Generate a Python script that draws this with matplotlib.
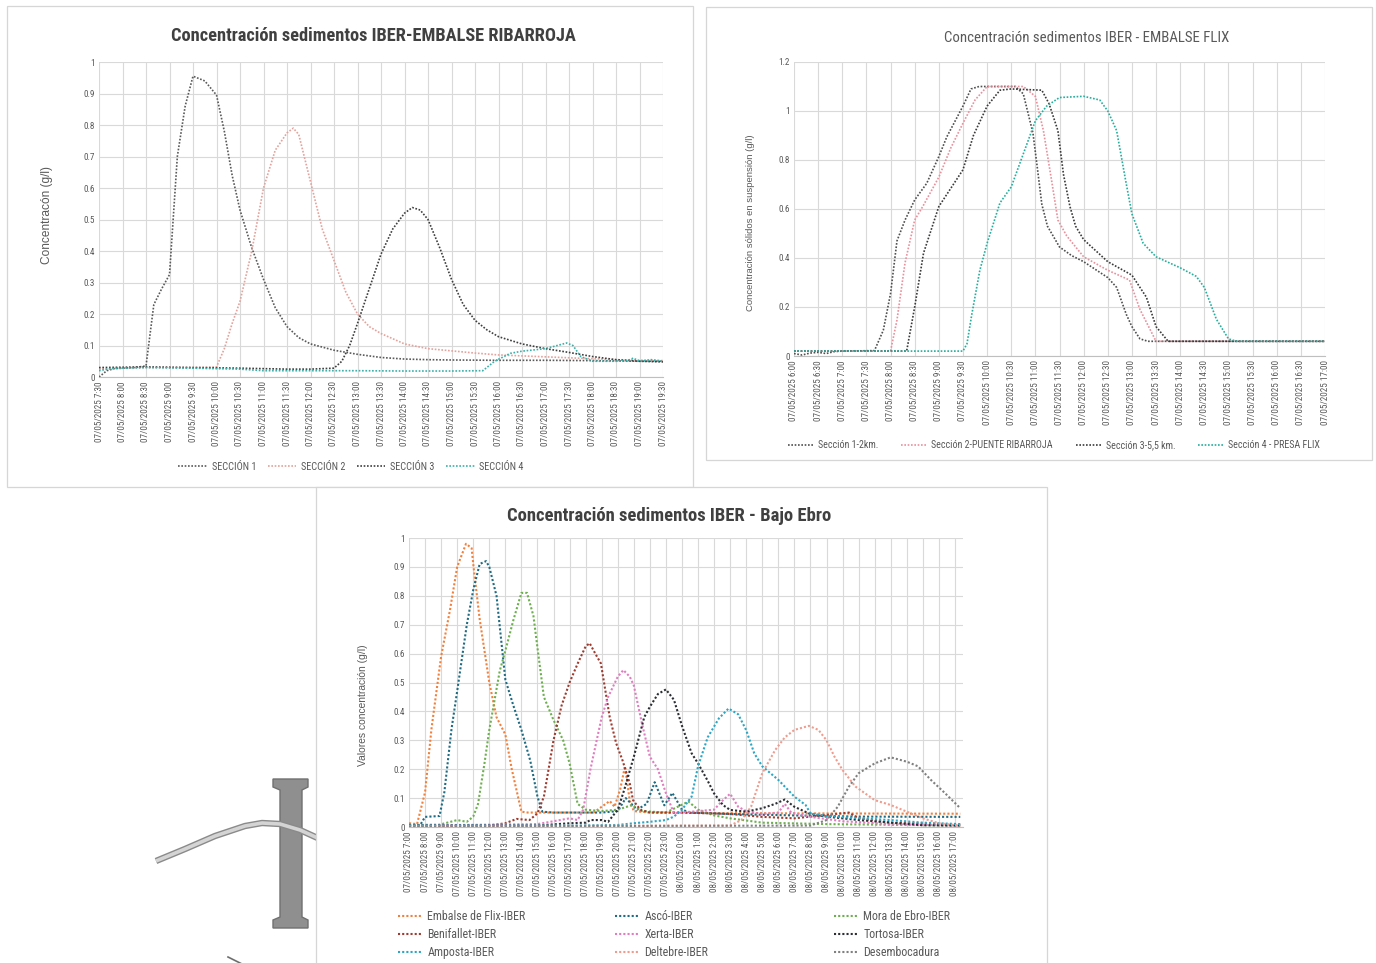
import matplotlib
matplotlib.use('Agg')
import matplotlib.pyplot as plt
from matplotlib.patches import Rectangle, Polygon
import numpy as np

W, H = 1376, 963
fig = plt.figure(figsize=(W / 100, H / 100), dpi=100)
fig.patch.set_facecolor('white')

NARROW = ['Liberation Sans Narrow', 'Roboto Condensed', 'DejaVu Sans']
REG = ['Liberation Sans', 'DejaVu Sans']
TXT = '#595959'
GRID = '#D9D9D9'

# ---------------- Chart 1 : Embalse Ribarroja ----------------
c1_title = 'Concentración sedimentos IBER-EMBALSE RIBARROJA'
c1_ylabel = 'Concentracón (g/l)'
c1_names = ['SECCIÓN 1', 'SECCIÓN 2', 'SECCIÓN 3', 'SECCIÓN 4']
c1_colors = ['#5A5A5A', '#E3A29B', '#3E3E3E', '#3AB0AA']
c1_s1_t = ['7:30', '7:40', '7:50', '8:00', '8:15', '8:30', '8:40', '8:50', '9:00', '9:10', '9:20', '9:30',
           '9:45', '10:00', '10:10', '10:20', '10:30', '10:45', '11:00', '11:15', '11:30', '11:45', '12:00',
           '12:30', '13:00', '13:30', '14:00', '14:30', '15:00', '16:00', '17:00', '18:00', '19:00', '19:30']
c1_s1_v = [0.0, 0.02, 0.027, 0.028, 0.03, 0.035, 0.23, 0.28, 0.325, 0.70, 0.86, 0.955,
           0.94, 0.895, 0.78, 0.64, 0.53, 0.41, 0.31, 0.22, 0.16, 0.125, 0.105,
           0.085, 0.072, 0.062, 0.057, 0.055, 0.054, 0.053, 0.053, 0.052, 0.05, 0.05]
c1_s2_t = ['7:30', '8:00', '8:30', '9:00', '9:30', '10:00', '10:10', '10:20', '10:30', '10:45', '11:00', '11:15',
           '11:30', '11:38', '11:45', '12:00', '12:15', '12:30', '12:45', '13:00', '13:15', '13:30', '14:00',
           '14:30', '15:00', '15:30', '16:00', '17:00', '18:00', '18:30', '19:30']
c1_s2_v = [0.025, 0.028, 0.03, 0.03, 0.03, 0.032, 0.09, 0.17, 0.24, 0.40, 0.60, 0.72,
           0.775, 0.79, 0.77, 0.62, 0.47, 0.37, 0.27, 0.20, 0.16, 0.138, 0.105,
           0.09, 0.083, 0.076, 0.07, 0.064, 0.058, 0.055, 0.052]
c1_s3_t = ['7:30', '8:30', '9:30', '10:30', '11:30', '12:00', '12:30', '12:40', '12:50', '13:00', '13:15', '13:30',
           '13:45', '14:00', '14:10', '14:20', '14:30', '14:45', '15:00', '15:15', '15:30', '15:45', '16:00',
           '16:30', '17:00', '17:30', '18:00', '18:30', '19:00', '19:30']
c1_s3_v = [0.03, 0.032, 0.03, 0.028, 0.025, 0.025, 0.028, 0.05, 0.10, 0.17, 0.28, 0.39,
           0.47, 0.52, 0.538, 0.53, 0.50, 0.41, 0.31, 0.23, 0.18, 0.15, 0.128,
           0.105, 0.09, 0.078, 0.065, 0.055, 0.05, 0.048]
c1_s4_t = ['7:30', '7:45', '8:30', '9:30', '10:30', '11:00', '12:00', '13:00', '14:00', '15:00', '15:40', '15:55',
           '16:15', '16:30', '17:00', '17:15', '17:27', '17:35', '17:45', '18:00', '18:30', '18:45', '18:52',
           '19:00', '19:15', '19:30']
c1_s4_v = [0.02, 0.027, 0.03, 0.028, 0.025, 0.02, 0.02, 0.02, 0.019, 0.019, 0.02, 0.05,
           0.075, 0.082, 0.09, 0.1, 0.108, 0.1, 0.065, 0.05, 0.05, 0.052, 0.06,
           0.05, 0.055, 0.05]
c1_yticks = [0, 0.1, 0.2, 0.3, 0.4, 0.5, 0.6, 0.7, 0.8, 0.9, 1]

# ---------------- Chart 2 : Embalse Flix ----------------
c2_title = 'Concentración sedimentos IBER - EMBALSE FLIX'
c2_ylabel = 'Concentración sólidos en suspensión (g/l)'
c2_names = ['Sección 1-2km.', 'Sección 2-PUENTE RIBARROJA', 'Sección 3-5,5 km.', 'Sección 4 - PRESA FLIX']
c2_colors = ['#4F4F4F', '#E8909C', '#3A3A3A', '#25AE9E']
c2_s1_t = ['6:00', '6:10', '6:20', '6:30', '6:40', '6:50', '7:00', '7:40', '7:51', '8:00', '8:08', '8:18',
           '8:30', '8:45', '9:00', '9:10', '9:30', '9:40', '9:50', '10:35', '10:45', '10:57', '11:02', '11:08',
           '11:15', '11:30', '11:45', '12:00', '12:30', '12:41', '12:53', '13:00', '13:10', '13:20', '17:00']
c2_s1_v = [0.01, 0.004, 0.012, 0.015, 0.01, 0.018, 0.02, 0.022, 0.105, 0.255, 0.47, 0.555,
           0.637, 0.705, 0.814, 0.895, 1.02, 1.09, 1.10, 1.10, 1.07, 0.91, 0.78, 0.62,
           0.53, 0.445, 0.41, 0.385, 0.32, 0.28, 0.17, 0.12, 0.07, 0.06, 0.06]
c2_s2_t = ['6:00', '6:30', '7:00', '8:00', '8:08', '8:18', '8:30', '8:40', '9:00', '9:15', '9:30', '9:45',
           '10:00', '10:45', '11:00', '11:10', '11:20', '11:28', '11:39', '12:00', '12:30', '12:57', '13:10',
           '13:30', '17:00']
c2_s2_v = [0.02, 0.02, 0.02, 0.02, 0.147, 0.38, 0.555, 0.61, 0.73, 0.85, 0.95, 1.045,
           1.10, 1.10, 1.06, 0.92, 0.72, 0.555, 0.49, 0.405, 0.35, 0.31, 0.19,
           0.06, 0.06]
c2_s3_t = ['6:00', '8:20', '8:30', '8:41', '9:00', '9:14', '9:30', '9:43', '10:00', '10:16', '10:30', '11:08',
           '11:17', '11:28', '11:35', '11:43', '11:50', '12:00', '12:30', '13:00', '13:18', '13:30', '13:45',
           '17:00']
c2_s3_v = [0.02, 0.02, 0.2, 0.42, 0.61, 0.68, 0.76, 0.9, 1.02, 1.085, 1.09, 1.085,
           1.03, 0.92, 0.74, 0.61, 0.53, 0.475, 0.385, 0.33, 0.24, 0.12, 0.06,
           0.06]
c2_s4_t = ['6:00', '9:30', '9:35', '9:41', '9:51', '10:00', '10:16', '10:30', '10:40', '11:00', '11:14', '11:30',
           '12:00', '12:20', '12:30', '12:41', '12:52', '13:00', '13:14', '13:30', '14:00', '14:20', '14:30',
           '14:45', '15:00', '15:10', '17:00']
c2_s4_v = [0.02, 0.02, 0.05, 0.17, 0.35, 0.46, 0.625, 0.69, 0.78, 0.96, 1.02, 1.055,
           1.06, 1.045, 1.0, 0.92, 0.72, 0.58, 0.46, 0.405, 0.36, 0.325, 0.28,
           0.15, 0.07, 0.06, 0.06]
c2_yticks = [0, 0.2, 0.4, 0.6, 0.8, 1, 1.2]

# ---------------- Chart 3 : Bajo Ebro (hours since 07/05 0:00) ----------------
c3_title = 'Concentración sedimentos IBER - Bajo Ebro'
c3_ylabel = 'Valores concentración (g/l)'
c3_names = ['Embalse de Flix-IBER', 'Ascó-IBER', 'Mora de Ebro-IBER',
            'Benifallet-IBER', 'Xerta-IBER', 'Tortosa-IBER',
            'Amposta-IBER', 'Deltebre-IBER', 'Desembocadura']
c3_colors = ['#F0803C', '#1F6B82', '#6DAF4F',
             '#9E3A2E', '#E27CC0', '#2A2D33',
             '#2BA6C4', '#EF9C8E', '#808080']
c3_flix_t = [7.0, 7.5, 8.0, 8.4, 9.0, 9.55, 10.0, 10.55, 10.9, 11.0, 11.4, 12.0, 12.45, 13.0, 13.4, 14.0,
             14.4, 18.5, 19.5, 19.8, 20.15, 20.45, 20.75, 21.0, 22.0, 27.0, 32.0, 41.33]
c3_flix_v = [0.013, 0.01, 0.12, 0.34, 0.59, 0.75, 0.90, 0.98, 0.965, 0.91, 0.72, 0.50, 0.38, 0.32, 0.20, 0.053,
             0.05, 0.05, 0.09, 0.07, 0.13, 0.21, 0.09, 0.055, 0.05, 0.048, 0.047, 0.046]
c3_asco_t = [7.0, 7.7, 8.0, 8.9, 9.2, 9.65, 10.0, 10.6, 11.0, 11.4, 11.8, 12.0, 12.45, 13.0, 13.5, 14.0,
             14.55, 15.0, 15.3, 16.0, 19.0, 20.0, 20.5, 21.2, 21.8, 22.3, 22.9, 23.4, 24.0, 24.5, 27.0,
             31.0, 35.0, 41.33]
c3_asco_v = [0.007, 0.007, 0.035, 0.038, 0.12, 0.34, 0.47, 0.70, 0.82, 0.91, 0.92, 0.90, 0.80, 0.51, 0.42, 0.336,
             0.23, 0.105, 0.053, 0.05, 0.05, 0.055, 0.10, 0.06, 0.08, 0.155, 0.075, 0.118, 0.06, 0.05, 0.045,
             0.04, 0.036, 0.035]
c3_mora_t = [7.0, 8.9, 10.0, 10.6, 11.0, 11.3, 11.7, 12.0, 12.65, 13.0, 13.5, 14.0, 14.35, 14.75, 15.0, 15.4,
             16.0, 16.6, 17.0, 17.5, 18.0, 19.0, 20.0, 20.9, 21.5, 23.0, 24.4, 25.0, 26.0, 27.0, 29.0, 33.0, 41.33]
c3_mora_v = [0.007, 0.008, 0.024, 0.018, 0.036, 0.08, 0.22, 0.336, 0.54, 0.61, 0.716, 0.81, 0.81, 0.73, 0.62, 0.45,
             0.37, 0.30, 0.22, 0.08, 0.06, 0.055, 0.06, 0.076, 0.055, 0.05, 0.088, 0.06, 0.04, 0.03, 0.015, 0.01, 0.005]
c3_beni_t = [7.0, 12.0, 13.0, 13.7, 14.5, 15.0, 15.4, 16.0, 16.5, 17.0, 17.5, 18.0, 18.25, 18.6, 18.95, 19.5,
             19.9, 20.3, 20.75, 20.95, 21.4, 22.0, 24.0, 27.0, 29.0, 31.0, 34.4, 35.0, 37.0, 41.33]
c3_beni_v = [0.003, 0.005, 0.013, 0.028, 0.024, 0.047, 0.105, 0.30, 0.42, 0.50, 0.565, 0.625, 0.636, 0.60, 0.566, 0.38,
             0.29, 0.23, 0.15, 0.093, 0.06, 0.05, 0.05, 0.045, 0.035, 0.03, 0.05, 0.03, 0.015, 0.008]
c3_xerta_t = [7.0, 15.0, 16.0, 17.0, 17.5, 17.85, 18.3, 19.0, 19.4, 20.0, 20.35, 20.75, 21.0, 21.5, 22.0, 22.5,
              23.0, 23.5, 24.0, 26.0, 26.5, 27.0, 27.5, 28.0, 29.0, 30.0, 30.4, 30.8, 32.0, 34.0, 37.0, 41.33]
c3_xerta_v = [0.005, 0.01, 0.02, 0.03, 0.024, 0.06, 0.20, 0.38, 0.45, 0.52, 0.543, 0.52, 0.49, 0.36, 0.243, 0.20,
              0.117, 0.047, 0.05, 0.06, 0.09, 0.115, 0.07, 0.055, 0.045, 0.05, 0.08, 0.05, 0.035, 0.02, 0.01, 0.005]
c3_tort_t = [7.0, 15.0, 17.0, 18.0, 18.3, 19.0, 19.4, 20.0, 20.4, 21.0, 21.65, 22.0, 22.5, 23.0, 23.5, 24.0,
             24.6, 25.0, 25.6, 26.0, 26.55, 27.0, 28.0, 29.0, 29.8, 30.4, 31.0, 31.9, 33.0, 35.0, 37.0, 39.0, 41.33]
c3_tort_v = [0.005, 0.005, 0.013, 0.015, 0.024, 0.024, 0.018, 0.06, 0.128, 0.243, 0.38, 0.416, 0.46, 0.476, 0.44, 0.35,
             0.255, 0.22, 0.16, 0.116, 0.076, 0.059, 0.053, 0.065, 0.08, 0.095, 0.07, 0.047, 0.036, 0.024, 0.015,
             0.006, 0.005]
c3_amp_t = [7.0, 17.0, 20.0, 21.0, 22.0, 23.0, 23.5, 24.0, 24.6, 25.0, 25.6, 26.3, 26.9, 27.5, 28.0, 28.5,
            29.0, 30.0, 31.0, 31.7, 32.0, 33.0, 35.0, 37.0, 39.0, 41.33]
c3_amp_v = [0.005, 0.005, 0.007, 0.013, 0.018, 0.024, 0.036, 0.06, 0.105, 0.21, 0.31, 0.376, 0.41, 0.39, 0.335, 0.255,
            0.21, 0.163, 0.105, 0.076, 0.047, 0.038, 0.03, 0.024, 0.015, 0.01]
c3_delt_t = [7.0, 27.0, 27.7, 28.3, 29.0, 29.8, 30.4, 31.0, 31.9, 32.5, 33.0, 33.5, 34.0, 34.8, 36.0, 37.0,
             38.0, 39.0, 40.0, 41.33]
c3_delt_v = [0.003, 0.005, 0.024, 0.07, 0.186, 0.266, 0.31, 0.336, 0.35, 0.336, 0.30, 0.243, 0.197, 0.14, 0.093,
             0.076, 0.053, 0.03, 0.013, 0.005]
c3_desem_t = [7.0, 32.0, 32.8, 33.0, 33.7, 34.4, 35.0, 36.0, 37.0, 38.0, 38.7, 39.5, 40.4, 41.33]
c3_desem_v = [0.002, 0.005, 0.02, 0.024, 0.07, 0.14, 0.186, 0.22, 0.241, 0.226, 0.21, 0.163, 0.116, 0.065]
c3_yticks = [0, 0.1, 0.2, 0.3, 0.4, 0.5, 0.6, 0.7, 0.8, 0.9, 1]


def hm(s):
    h, m = s.split(':')
    return int(h) + int(m) / 60.0


def px_axes(l, t, r, b, z=2):
    ax = fig.add_axes([l / W, 1 - b / H, (r - l) / W, (b - t) / H])
    ax.set_zorder(z)
    return ax


def style(ax, xlim, ylim, xticks, xlabels, yticks, xfs, yfs):
    ax.set_facecolor('none')
    ax.set_xlim(*xlim)
    ax.set_ylim(*ylim)
    ax.set_xticks(xticks)
    ax.set_xticklabels(xlabels, rotation=90, fontsize=xfs, family=NARROW, color=TXT)
    ax.set_yticks(yticks)
    ax.set_yticklabels(['%g' % v for v in yticks], fontsize=yfs, family=NARROW, color=TXT)
    ax.grid(True, color=GRID, lw=0.8)
    ax.set_axisbelow(True)
    for s in ['top', 'right', 'left']:
        ax.spines[s].set_visible(False)
    ax.spines['bottom'].set_color('#BFBFBF')
    ax.spines['bottom'].set_linewidth(0.8)
    ax.tick_params(length=0, pad=3)


DOT = (0, (1, 1))

# ---------------- background: panels and decoration ----------------
bg = fig.add_axes([0, 0, 1, 1])
bg.set_zorder(0)
bg.set_xlim(0, W)
bg.set_ylim(H, 0)
bg.axis('off')
# decorative I-beam and tube (part of the page behind the charts)
tube_x = [156, 185, 215, 245, 262, 280, 300, 322]
tube_y = [861, 849, 836, 826, 823, 824, 830, 840]
bg.add_patch(Polygon([(273, 779), (308, 779), (308, 787), (302, 790), (302, 917), (308, 920), (308, 928),
                      (273, 928), (273, 920), (280, 917), (280, 790), (273, 787)],
                     closed=True, facecolor='#8F8F8F', edgecolor='#707070', lw=1.0, zorder=1))
bg.plot(tube_x, tube_y, color='#8A8A8A', lw=4.6, solid_capstyle='butt', zorder=2)
bg.plot(tube_x, tube_y, color='#D4D4D4', lw=2.6, solid_capstyle='butt', zorder=2.1)
bg.plot([228, 242], [957, 964], color='#6E6E6E', lw=1.2, zorder=2)
# panels
bg.add_patch(Rectangle((7, 6), 686, 481, facecolor='white', edgecolor='#D6D6D6', lw=0.9, zorder=0.5))
bg.add_patch(Rectangle((706, 7), 666, 453, facecolor='white', edgecolor='#D6D6D6', lw=0.9, zorder=0.5))
bg.add_patch(Rectangle((316, 487), 731, 490, facecolor='white', edgecolor='#D6D6D6', lw=0.9, zorder=3))

# ---------------- Chart 1 ----------------
ax1 = px_axes(99, 62, 663, 377)
c1_series = [(c1_s1_t, c1_s1_v), (c1_s2_t, c1_s2_v), (c1_s3_t, c1_s3_v), (c1_s4_t, c1_s4_v)]
h1 = []
for (tt, vv), name, col in zip(c1_series, c1_names, c1_colors):
    ln, = ax1.plot([hm(t) for t in tt], vv, ls=DOT, lw=1.2, color=col, label=name)
    h1.append(ln)
x1 = [7.5 + 0.5 * k for k in range(25)]
l1 = ['07/05/2025 %d:%02d' % (int(x), round((x % 1) * 60)) for x in x1]
style(ax1, (7.5, 19.5), (0, 1), x1, l1, c1_yticks, 6.6, 6.6)
ax1.set_ylabel(c1_ylabel, fontsize=8.6, family=REG, color=TXT)
ax1.yaxis.set_label_coords(-0.082, 0.514)
fig.text(373 / W, 1 - 36 / H, c1_title, ha='center', va='center', fontsize=13.2,
         fontweight='bold', family=NARROW, color='#404040')
ax1.legend(handles=h1, loc='center', bbox_to_anchor=(351 / W, 1 - 467 / H), bbox_transform=fig.transFigure,
           ncol=4, frameon=False, prop={'family': NARROW, 'size': 7.4}, labelcolor=TXT,
           handlelength=2.8, handletextpad=0.45, columnspacing=1.1, borderpad=0)

# ---------------- Chart 2 ----------------
ax2 = px_axes(794, 62, 1325, 356)
c2_series = [(c2_s1_t, c2_s1_v), (c2_s2_t, c2_s2_v), (c2_s3_t, c2_s3_v), (c2_s4_t, c2_s4_v)]
h2 = []
for (tt, vv), name, col in zip(c2_series, c2_names, c2_colors):
    ln, = ax2.plot([hm(t) for t in tt], vv, ls=DOT, lw=1.2, color=col, label=name)
    h2.append(ln)
x2 = [6.0 + 0.5 * k for k in range(23)]
l2 = ['07/05/2025 %d:%02d' % (int(x), round((x % 1) * 60)) for x in x2]
style(ax2, (6, 17), (0, 1.2), x2, l2, c2_yticks, 6.6, 6.6)
ax2.set_ylabel(c2_ylabel, fontsize=6.8, family=REG, color=TXT)
ax2.yaxis.set_label_coords(-0.074, 0.452)
fig.text(1087 / W, 1 - 38 / H, c2_title, ha='center', va='center', fontsize=10.7,
         family=NARROW, color=TXT)
ax2.legend(handles=h2, loc='center', bbox_to_anchor=(1054 / W, 1 - 445 / H), bbox_transform=fig.transFigure,
           ncol=4, frameon=False, prop={'family': NARROW, 'size': 7.2}, labelcolor=TXT,
           handlelength=2.5, handletextpad=0.5, columnspacing=2.3, borderpad=0)

# ---------------- Chart 3 ----------------
ax3 = px_axes(409, 538, 963, 827, z=4)
c3_series = [(c3_flix_t, c3_flix_v), (c3_asco_t, c3_asco_v), (c3_mora_t, c3_mora_v),
             (c3_beni_t, c3_beni_v), (c3_xerta_t, c3_xerta_v), (c3_tort_t, c3_tort_v),
             (c3_amp_t, c3_amp_v), (c3_delt_t, c3_delt_v), (c3_desem_t, c3_desem_v)]
h3 = []
for (tt, vv), name, col in zip(c3_series, c3_names, c3_colors):
    ln, = ax3.plot(tt, vv, ls=DOT, lw=1.5, color=col, label=name)
    h3.append(ln)
x3 = list(range(7, 42))
l3 = [('07/05/2025 %d:00' % x) if x < 24 else ('08/05/2025 %d:00' % (x - 24)) for x in x3]
style(ax3, (7, 41.5), (0, 1), x3, l3, c3_yticks, 6.6, 6.6)
ax3.set_ylabel(c3_ylabel, fontsize=7.4, family=REG, color=TXT)
ax3.yaxis.set_label_coords(-0.074, 0.422)
fig.text(669 / W, 1 - 516 / H, c3_title, ha='center', va='center', fontsize=13.4,
         fontweight='bold', family=NARROW, color='#404040')
col_x = [398, 615, 834]
for c in range(3):
    hs = [h3[c + 3 * r] for r in range(3)]
    lg = ax3.legend(handles=hs, loc='upper left', bbox_to_anchor=(col_x[c] / W, 1 - 910 / H),
                    bbox_transform=fig.transFigure, ncol=1, frameon=False,
                    prop={'family': NARROW, 'size': 8.6}, labelcolor=TXT,
                    handlelength=2.1, handletextpad=0.35, labelspacing=0.43, borderpad=0, borderaxespad=0)
    if c < 2:
        ax3.add_artist(lg)

fig.savefig('out.png', dpi=100, facecolor='white')
